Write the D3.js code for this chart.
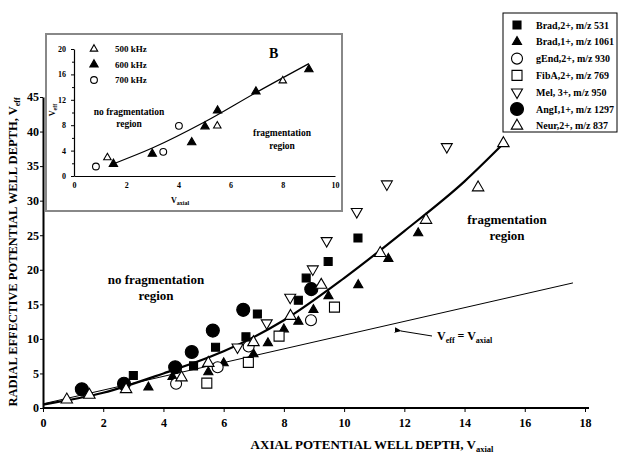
<!DOCTYPE html>
<html>
<head>
<meta charset="utf-8">
<script src="https://cdn.jsdelivr.net/npm/d3@7"></script>
<style>
body { margin: 0; background: #fff; }
text { font-family: "Liberation Serif", "Times New Roman", serif; font-weight: bold; fill: #000; }
</style>
</head>
<body>
<div class="container"></div>
<script>
// ---- main chart data ----
var xTicks = [0, 2, 4, 6, 8, 10, 12, 14, 16, 18];
var yTicks = [0, 5, 10, 15, 20, 25, 30, 35, 40, 45];

var seriesNames = ["Brad,2+, m/z 531", "Brad,1+, m/z 1061", "gEnd,2+, m/z 930", "FibA,2+, m/z 769",
                   "Mel, 3+, m/z 950", "AngI,1+, m/z 1297", "Neur,2+, m/z 837"];

var brad2X = [3.0, 5.0, 5.73, 6.74, 7.12, 8.48, 8.74, 9.47, 10.46];
var brad2Y = [4.7, 6.1, 8.8, 10.3, 13.6, 15.6, 18.8, 21.2, 24.6];

var brad1X = [3.5, 4.3, 5.49, 6.0, 6.99, 7.47, 8.0, 8.48, 8.98, 9.48, 10.47, 11.47, 12.46];
var brad1Y = [3.0, 4.5, 5.2, 6.5, 7.8, 9.4, 11.4, 12.5, 14.2, 16.2, 17.8, 21.6, 25.3];

var gEndX = [4.42, 5.8, 6.83, 8.9];
var gEndY = [3.5, 5.9, 8.9, 12.7];

var fibAX = [5.44, 6.82, 7.84, 9.68];
var fibAY = [3.6, 6.6, 10.4, 14.6];

var melX = [6.46, 7.43, 8.21, 8.96, 9.42, 10.42, 11.42, 13.41];
var melY = [8.8, 12.3, 16.0, 20.1, 24.2, 28.4, 32.4, 37.8];

var angX = [1.29, 2.69, 4.39, 4.94, 5.64, 6.65, 8.91];
var angY = [2.7, 3.5, 5.9, 8.1, 11.2, 14.2, 17.2];

var neurX = [0.79, 1.54, 2.76, 4.6, 5.49, 6.99, 8.22, 9.24, 11.2, 12.72, 14.45, 15.29];
var neurY = [1.2, 1.9, 2.7, 4.4, 6.5, 9.5, 13.3, 17.8, 22.4, 27.2, 31.9, 38.3];

// fitted curve, read at a few points
var fitX = [0, 2, 4, 6, 8, 10, 12, 14, 15.3];
var fitY = [0.5, 2.2, 5.0, 8.2, 12.7, 18.8, 25.6, 32.8, 38.3];

// Veff = Vaxial line
var idX = [0, 17.6];
var idY = [0.6, 18.1];

// ---- inset (B) data ----
var inXTicks = [0, 2, 4, 6, 8, 10];
var inYTicks = [0, 4, 8, 12, 16, 20];
var inNames = ["500 kHz", "600 kHz", "700 kHz"];

var k500X = [1.28, 5.49, 8.0];
var k500Y = [2.9, 7.9, 15.0];
var k600X = [1.51, 3.0, 4.51, 5.02, 5.5, 6.97, 9.0];
var k600Y = [1.9, 3.5, 5.3, 7.8, 10.3, 13.3, 16.8];
var k700X = [0.84, 3.42, 4.02];
var k700Y = [1.5, 3.8, 7.9];

var inFitX = [1.5, 3, 5, 7, 9];
var inFitY = [1.9, 4.4, 8.5, 13.2, 17.7];

// ---- stage ----
function makeStage(width, height) {
    return d3.select(".container")
        .insert("svg")
        .attr("width", width)
        .attr("height", height)
        .style("display", "block");
}

var svg = makeStage(622, 454);

var x = d3.scaleLinear().domain([0, 18]).range([43, 585]);
var y = d3.scaleLinear().domain([0, 45]).range([408, 97]);

function zip(xs, ys) { return xs.map(function (v, i) { return [v, ys[i]]; }); }

// marker style per series
var styles = [
    {type: d3.symbolSquare,   size: 64,  fill: "#000", rot: 0},
    {type: d3.symbolTriangle, size: 36,  fill: "#000", rot: 0},
    {type: d3.symbolCircle,   size: 95,  fill: "#fff", rot: 0},
    {type: d3.symbolSquare,   size: 100, fill: "#fff", rot: 0},
    {type: d3.symbolTriangle, size: 52,  fill: "#fff", rot: 180},
    {type: d3.symbolCircle,   size: 133, fill: "#000", rot: 0},
    {type: d3.symbolTriangle, size: 57,  fill: "#fff", rot: 0}
];
var mainData = [zip(brad2X, brad2Y), zip(brad1X, brad1Y), zip(gEndX, gEndY), zip(fibAX, fibAY),
                zip(melX, melY), zip(angX, angY), zip(neurX, neurY)];

function drawMarker(g, st, cx, cy, scale) {
    g.append("path")
        .attr("d", d3.symbol().type(st.type).size(st.size * (scale || 1))())
        .attr("transform", "translate(" + cx + "," + cy + ") rotate(" + st.rot + ")")
        .style("fill", st.fill)
        .style("stroke", "#000")
        .style("stroke-width", 1.1);
}

// axes
var xAxis = svg.append("g").attr("transform", "translate(0,408)")
    .call(d3.axisBottom(x).tickValues(xTicks).tickSizeInner(4).tickSizeOuter(0).tickPadding(6));
var yAxis = svg.append("g").attr("transform", "translate(43,0)")
    .call(d3.axisLeft(y).tickValues(yTicks).tickSizeInner(3).tickSizeOuter(0).tickPadding(1));
[xAxis, yAxis].forEach(function (a) {
    a.select(".domain").style("stroke-width", 2);
    a.selectAll("text").style("font-family", "Liberation Serif").style("font-weight", "bold").style("font-size", "12px");
});
xAxis.select(".domain").attr("d", "M43,0H589");

// identity line and fitted curve
var line = d3.line().x(function (d) { return x(d[0]); }).y(function (d) { return y(d[1]); });
svg.append("path").datum(zip(idX, idY)).attr("d", line)
    .style("fill", "none").style("stroke", "#000").style("stroke-width", 1);
svg.append("path").datum(zip(fitX, fitY)).attr("d", line.curve(d3.curveMonotoneX))
    .style("fill", "none").style("stroke", "#000").style("stroke-width", 2.2);

// points
var pts = svg.append("g");
mainData.forEach(function (data, i) {
    data.forEach(function (d) { drawMarker(pts, styles[i], x(d[0]), y(d[1])); });
});

// axis titles
svg.append("text")
    .attr("transform", "translate(17,252) rotate(-90)")
    .attr("text-anchor", "middle")
    .style("font-size", "12.5px")
    .html('RADIAL EFFECTIVE POTENTIAL WELL DEPTH, V<tspan dy="3" font-size="8px">eff</tspan>');
svg.append("text")
    .attr("x", 372).attr("y", 449)
    .attr("text-anchor", "middle")
    .style("font-size", "13px")
    .html('AXIAL POTENTIAL WELL DEPTH, V<tspan dy="3" font-size="8.5px">axial</tspan>');

// annotations
svg.append("text").attr("x", 520).attr("y", 105).style("font-size", "14px").text("A");
function twoLines(cx, cy, a, b, fs) {
    var t = svg.append("text").attr("text-anchor", "middle").style("font-size", fs + "px");
    t.append("tspan").attr("x", cx).attr("y", cy).text(a);
    t.append("tspan").attr("x", cx).attr("y", cy + fs * 1.25).text(b);
}
twoLines(156, 284, "no fragmentation", "region", 13);
twoLines(507, 224, "fragmentation", "region", 13);

svg.append("defs").append("marker")
    .attr("id", "arr").attr("viewBox", "0 0 10 10").attr("refX", 1).attr("refY", 5)
    .attr("markerWidth", 7).attr("markerHeight", 7).attr("orient", "auto-start-reverse")
    .append("path").attr("d", "M10,1L0,5L10,9Z").style("fill", "#000");
svg.append("line").attr("x1", 432).attr("y1", 336).attr("x2", 401).attr("y2", 331)
    .style("stroke", "#000").style("stroke-width", 1).attr("marker-end", "url(#arr)");
svg.append("text").attr("x", 437).attr("y", 340).style("font-size", "12px")
    .html('V<tspan dy="3" font-size="8px">eff</tspan><tspan dy="-3"> = V</tspan><tspan dy="3" font-size="8px">axial</tspan>');

// legend
var leg = svg.append("g");
leg.append("rect").attr("x", 503).attr("y", 13).attr("width", 114).attr("height", 119)
    .style("fill", "#fff").style("stroke", "#000").style("stroke-width", 1);
seriesNames.forEach(function (name, i) {
    var ly = 25 + i * 16.8;
    drawMarker(leg, styles[i], 517, ly);
    leg.append("text").attr("x", 536).attr("y", ly + 3.5).style("font-size", "10px").text(name);
});

// ---- inset B ----
var ins = svg.append("g");
ins.append("rect").attr("x", 46).attr("y", 34).attr("width", 296).attr("height", 177)
    .style("fill", "#fff").style("stroke", "#888").style("stroke-width", 2);

var xi = d3.scaleLinear().domain([0, 10]).range([74, 335]);
var yi = d3.scaleLinear().domain([0, 20]).range([176, 49]);

var xiAxis = ins.append("g").attr("transform", "translate(0,176)")
    .call(d3.axisBottom(xi).tickValues(inXTicks).tickSizeInner(0).tickSizeOuter(0).tickPadding(6));
var yiAxis = ins.append("g").attr("transform", "translate(74,0)")
    .call(d3.axisLeft(yi).tickValues(inYTicks).tickSizeInner(3).tickSizeOuter(0).tickPadding(5));
// minor ticks
ins.append("g").attr("transform", "translate(74,0)")
    .call(d3.axisLeft(yi).tickValues(d3.range(2, 20, 4)).tickSizeInner(2).tickSizeOuter(0).tickFormat(""))
    .select(".domain").remove();
[xiAxis, yiAxis].forEach(function (a) {
    a.select(".domain").style("stroke-width", 1.2);
    a.selectAll("text").style("font-family", "Liberation Serif").style("font-weight", "bold").style("font-size", "8px");
});

var lineI = d3.line().x(function (d) { return xi(d[0]); }).y(function (d) { return yi(d[1]); })
    .curve(d3.curveMonotoneX);
ins.append("path").datum(zip(inFitX, inFitY)).attr("d", lineI)
    .style("fill", "none").style("stroke", "#000").style("stroke-width", 1.2);

var inStyles = [
    {type: d3.symbolTriangle, size: 24, fill: "#fff", rot: 0},
    {type: d3.symbolTriangle, size: 30, fill: "#000", rot: 0},
    {type: d3.symbolCircle,   size: 36, fill: "#fff", rot: 0}
];
var inData = [zip(k500X, k500Y), zip(k600X, k600Y), zip(k700X, k700Y)];
inData.forEach(function (data, i) {
    data.forEach(function (d) { drawMarker(ins, inStyles[i], xi(d[0]), yi(d[1])); });
});
inNames.forEach(function (name, i) {
    var ly = 49 + i * 15.5;
    drawMarker(ins, inStyles[i], 94, ly);
    ins.append("text").attr("x", 115).attr("y", ly + 3).style("font-size", "9px").text(name);
});

ins.append("text").attr("x", 269).attr("y", 58).style("font-size", "14px").text("B");
ins.append("text").attr("transform", "translate(55,110) rotate(-90)").attr("text-anchor", "middle")
    .style("font-size", "8px")
    .html('V<tspan dy="2" font-size="6px">eff</tspan>');
ins.append("text").attr("x", 180).attr("y", 203).attr("text-anchor", "middle")
    .style("font-size", "8px")
    .html('V<tspan dy="2" font-size="6px">axial</tspan>');

var t1 = ins.append("text").attr("text-anchor", "middle").style("font-size", "9.5px");
t1.append("tspan").attr("x", 129).attr("y", 115).text("no fragmentation");
t1.append("tspan").attr("x", 129).attr("y", 127).text("region");
var t2 = ins.append("text").attr("text-anchor", "middle").style("font-size", "9.5px");
t2.append("tspan").attr("x", 282).attr("y", 136).text("fragmentation");
t2.append("tspan").attr("x", 282).attr("y", 149).text("region");
</script>
</body>
</html>
